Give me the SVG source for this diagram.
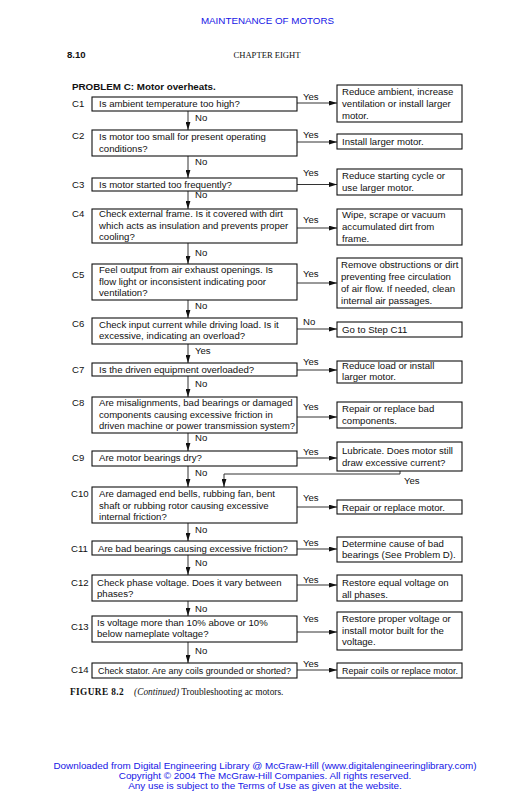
<svg xmlns="http://www.w3.org/2000/svg" width="531" height="800" viewBox="0 0 531 800">
<defs>
<style>
text{font-family:"Liberation Sans",Arial,sans-serif;font-size:9.6px;fill:#111}
.hdr{fill:#1515e6;font-size:9.8px}
.ft{fill:#1515e6;font-size:9.9px}
.b{font-weight:bold}
.lbl{font-size:9.6px}
.serif{font-family:"Liberation Serif","Times New Roman",serif}
rect{fill:#fff;stroke:#111;stroke-width:1.1}
.c line,.c polyline{stroke:#333;stroke-width:1;fill:none}
</style>
<marker id="ah" viewBox="0 0 10 6" refX="10" refY="3" markerWidth="8" markerHeight="5" markerUnits="userSpaceOnUse" orient="auto">
<path d="M0,0 L10,3 L0,6 Z" fill="#111"/>
</marker>
</defs>
<rect x="0" y="0" width="531" height="800" style="fill:#fff;stroke:none"/>
<text class="hdr" x="267.5" y="24" text-anchor="middle">MAINTENANCE OF MOTORS</text>
<text class="b" x="67" y="58" style="font-size:9.6px">8.10</text>
<text class="serif" x="267" y="58" text-anchor="middle" style="font-size:8.6px">CHAPTER EIGHT</text>
<text class="b" x="72" y="90" style="font-size:9.8px">PROBLEM C: Motor overheats.</text>

<g class="c" id="connectors">
<line x1="297" y1="103" x2="337" y2="103" marker-end="url(#ah)"/>
<line x1="297" y1="142" x2="337" y2="142" marker-end="url(#ah)"/>
<line x1="297" y1="184.5" x2="337" y2="184.5" marker-end="url(#ah)"/>
<line x1="297" y1="228" x2="337" y2="228" marker-end="url(#ah)"/>
<line x1="297" y1="283" x2="337" y2="283" marker-end="url(#ah)"/>
<line x1="297" y1="329" x2="337" y2="329" marker-end="url(#ah)"/>
<line x1="297" y1="370" x2="337" y2="370" marker-end="url(#ah)"/>
<line x1="297" y1="417" x2="337" y2="417" marker-end="url(#ah)"/>
<line x1="297" y1="458" x2="337" y2="458" marker-end="url(#ah)"/>
<line x1="297" y1="507" x2="337" y2="507" marker-end="url(#ah)"/>
<line x1="297" y1="549" x2="337" y2="549" marker-end="url(#ah)"/>
<line x1="297" y1="585" x2="337" y2="585" marker-end="url(#ah)"/>
<line x1="297" y1="632" x2="337" y2="632" marker-end="url(#ah)"/>
<line x1="297" y1="670" x2="337" y2="670" marker-end="url(#ah)"/>
<line x1="188" y1="111" x2="188" y2="130" marker-end="url(#ah)"/>
<line x1="188" y1="156" x2="188" y2="178" marker-end="url(#ah)"/>
<line x1="188" y1="191" x2="188" y2="209" marker-end="url(#ah)"/>
<line x1="188" y1="243" x2="188" y2="264" marker-end="url(#ah)"/>
<line x1="188" y1="300" x2="188" y2="318" marker-end="url(#ah)"/>
<line x1="188" y1="344" x2="188" y2="363" marker-end="url(#ah)"/>
<line x1="188" y1="376" x2="188" y2="397" marker-end="url(#ah)"/>
<line x1="188" y1="433" x2="188" y2="451" marker-end="url(#ah)"/>
<line x1="188" y1="466" x2="188" y2="487" marker-end="url(#ah)"/>
<line x1="188" y1="523" x2="188" y2="541" marker-end="url(#ah)"/>
<line x1="188" y1="555" x2="188" y2="575" marker-end="url(#ah)"/>
<line x1="188" y1="601" x2="188" y2="616" marker-end="url(#ah)"/>
<line x1="188" y1="642" x2="188" y2="663" marker-end="url(#ah)"/>
<polyline points="400,471 400,474 224,474 224,487" marker-end="url(#ah)"/>
<text x="303" y="99.5">Yes</text>
<text x="303" y="138">Yes</text>
<text x="303" y="176">Yes</text>
<text x="303" y="223">Yes</text>
<text x="303" y="277">Yes</text>
<text x="303" y="325">No</text>
<text x="303" y="365">Yes</text>
<text x="303" y="410">Yes</text>
<text x="303" y="455">Yes</text>
<text x="303" y="501">Yes</text>
<text x="303" y="545.5">Yes</text>
<text x="303" y="583">Yes</text>
<text x="303" y="622">Yes</text>
<text x="303" y="667">Yes</text>
<text x="195" y="120.5">No</text>
<text x="195" y="165">No</text>
<text x="195" y="198">No</text>
<text x="195" y="256">No</text>
<text x="195" y="309">No</text>
<text x="195" y="354">Yes</text>
<text x="195" y="387">No</text>
<text x="195" y="441">No</text>
<text x="195" y="476">No</text>
<text x="195" y="533">No</text>
<text x="195" y="565.5">No</text>
<text x="195" y="612">No</text>
<text x="195" y="654">No</text>
<text x="404" y="484">Yes</text>
</g>

<g id="C1"><text class="lbl" x="72" y="107">C1</text><rect x="92" y="97" width="205" height="14"/><text x="99" y="107">Is ambient temperature too high?</text></g>
<g id="C1R"><rect x="337" y="85" width="125" height="37"/><text x="342" y="95">Reduce ambient, increase</text><text x="342" y="107">ventilation or install larger</text><text x="342" y="119">motor.</text></g>

<g id="C2"><text class="lbl" x="72" y="139">C2</text><rect x="92" y="130" width="205" height="26"/><text x="99" y="140">Is motor too small for present operating</text><text x="99" y="151.5">conditions?</text></g>
<g id="C2R"><rect x="337" y="134" width="125" height="15"/><text x="342" y="144.5">Install larger motor.</text></g>

<g id="C3"><text class="lbl" x="72" y="187.5">C3</text><rect x="92" y="178" width="205" height="13"/><text x="99" y="187.5">Is motor started too frequently?</text></g>
<g id="C3R"><rect x="337" y="169" width="125" height="26"/><text x="342" y="179">Reduce starting cycle or</text><text x="342" y="191">use larger motor.</text></g>

<g id="C4"><text class="lbl" x="72" y="216.5">C4</text><rect x="92" y="209" width="205" height="34"/><text x="99" y="217">Check external frame. Is it covered with dirt</text><text x="99" y="228.5">which acts as insulation and prevents proper</text><text x="99" y="240">cooling?</text></g>
<g id="C4R"><rect x="337" y="209" width="125" height="36"/><text x="342" y="218">Wipe, scrape or vacuum</text><text x="342" y="230">accumulated dirt from</text><text x="342" y="242">frame.</text></g>

<g id="C5"><text class="lbl" x="72" y="277.5">C5</text><rect x="92" y="264" width="205" height="36"/><text x="99" y="273">Feel output from air exhaust openings. Is</text><text x="99" y="284.5">flow light or inconsistent indicating poor</text><text x="99" y="296">ventilation?</text></g>
<g id="C5R"><rect x="337" y="258" width="125" height="50"/><text x="341" y="268">Remove obstructions or dirt</text><text x="341" y="280">preventing free circulation</text><text x="341" y="292">of air flow. If needed, clean</text><text x="341" y="304">internal air passages.</text></g>

<g id="C6"><text class="lbl" x="72" y="326.5">C6</text><rect x="92" y="318" width="205" height="26"/><text x="99" y="327.5">Check input current while driving load. Is it</text><text x="99" y="339">excessive, indicating an overload?</text></g>
<g id="C6R"><rect x="337" y="322" width="125" height="15"/><text x="342" y="332.5">Go to Step C11</text></g>

<g id="C7"><text class="lbl" x="72" y="373">C7</text><rect x="92" y="363" width="205" height="13"/><text x="99" y="372.5">Is the driven equipment overloaded?</text></g>
<g id="C7R"><rect x="337" y="361" width="125" height="22"/><text x="342" y="368.5">Reduce load or install</text><text x="342" y="380">larger motor.</text></g>

<g id="C8"><text class="lbl" x="72" y="406">C8</text><rect x="92" y="397" width="205" height="36"/><text x="99" y="406">Are misalignments, bad bearings or damaged</text><text x="99" y="417.5">components causing excessive friction in</text><text x="99" y="429" textLength="196" lengthAdjust="spacingAndGlyphs">driven machine or power transmission system?</text></g>
<g id="C8R"><rect x="337" y="402" width="125" height="26"/><text x="342" y="411.5">Repair or replace bad</text><text x="342" y="423.5">components.</text></g>

<g id="C9"><text class="lbl" x="72" y="461">C9</text><rect x="92" y="451" width="205" height="15"/><text x="99" y="461">Are motor bearings dry?</text></g>
<g id="C9R"><rect x="337" y="442" width="125" height="29"/><text x="342" y="453.5">Lubricate. Does motor still</text><text x="342" y="466">draw excessive current?</text></g>

<g id="C10"><text class="lbl" x="71" y="497">C10</text><rect x="92" y="487" width="205" height="36"/><text x="99" y="497">Are damaged end bells, rubbing fan, bent</text><text x="99" y="508.5">shaft or rubbing rotor causing excessive</text><text x="99" y="520">internal friction?</text></g>
<g id="C10R"><rect x="337" y="500" width="125" height="14"/><text x="342" y="510.5">Repair or replace motor.</text></g>

<g id="C11"><text class="lbl" x="71" y="551.5">C11</text><rect x="92" y="541" width="205" height="14"/><text x="98" y="551.5">Are bad bearings causing excessive friction?</text></g>
<g id="C11R"><rect x="337" y="537" width="125" height="25"/><text x="342" y="546.5">Determine cause of bad</text><text x="342" y="558">bearings (See Problem D).</text></g>

<g id="C12"><text class="lbl" x="71" y="585.5">C12</text><rect x="92" y="575" width="205" height="26"/><text x="97" y="585.5">Check phase voltage. Does it vary between</text><text x="97" y="597">phases?</text></g>
<g id="C12R"><rect x="337" y="575" width="125" height="26"/><text x="342" y="586">Restore equal voltage on</text><text x="342" y="597.5">all phases.</text></g>

<g id="C13"><text class="lbl" x="71" y="629.5">C13</text><rect x="92" y="616" width="205" height="26"/><text x="97" y="625.5">Is voltage more than 10% above or 10%</text><text x="97" y="637">below nameplate voltage?</text></g>
<g id="C13R"><rect x="337" y="612" width="125" height="38"/><text x="342" y="622">Restore proper voltage or</text><text x="342" y="633.5">install motor built for the</text><text x="342" y="645">voltage.</text></g>

<g id="C14"><text class="lbl" x="71" y="673">C14</text><rect x="92" y="663" width="205" height="15"/><text x="98" y="673.5" textLength="193" lengthAdjust="spacingAndGlyphs">Check stator. Are any coils grounded or shorted?</text></g>
<g id="C14R"><rect x="337" y="663" width="125" height="15"/><text x="342" y="673.5" textLength="116" lengthAdjust="spacingAndGlyphs">Repair coils or replace motor.</text></g>

<text class="serif" x="70" y="694.5" style="font-size:9.3px"><tspan font-weight="bold" letter-spacing="0.4">FIGURE 8.2</tspan><tspan dx="10" font-style="italic">(Continued)</tspan> Troubleshooting ac motors.</text>

<text class="ft" x="265" y="769" text-anchor="middle">Downloaded from Digital Engineering Library @ McGraw-Hill (www.digitalengineeringlibrary.com)</text>
<text class="ft" x="265" y="779" text-anchor="middle">Copyright © 2004 The McGraw-Hill Companies. All rights reserved.</text>
<text class="ft" x="265" y="789" text-anchor="middle">Any use is subject to the Terms of Use as given at the website.</text>
</svg>
